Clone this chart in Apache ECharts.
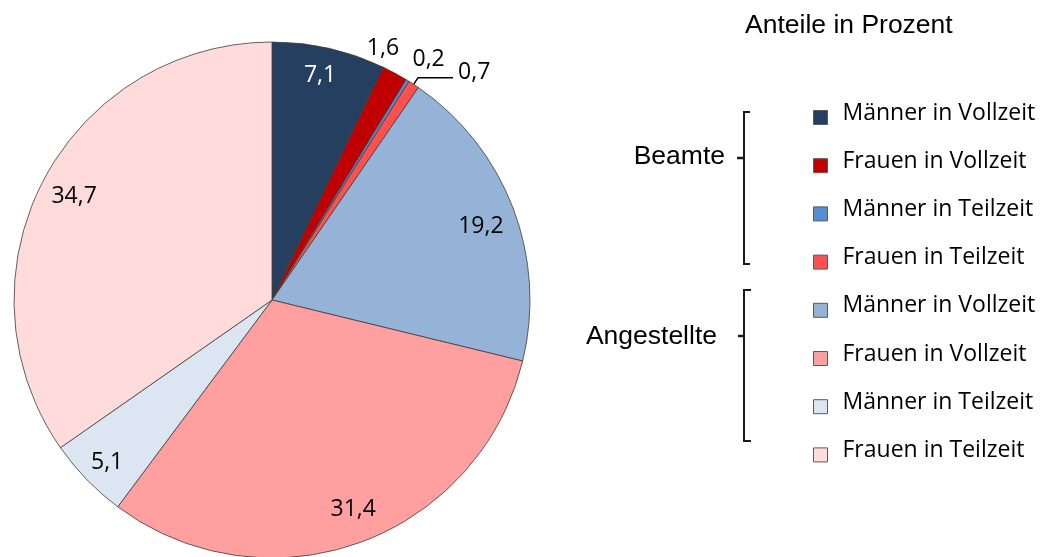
<!DOCTYPE html>
<html><head><meta charset="utf-8">
<script src="https://cdn.jsdelivr.net/npm/echarts@6/dist/echarts.min.js"></script>
<style>html,body{margin:0;padding:0;background:#fff}#c{width:1052px;height:557px}</style>
</head><body><div id="c"></div>
<script>
// ---- data ----
const chartTitle = 'Anteile in Prozent';
const groups = ['Beamte', 'Angestellte'];
const categories = ['Männer in Vollzeit', 'Frauen in Vollzeit', 'Männer in Teilzeit', 'Frauen in Teilzeit'];
const beamteValues = [7.1, 1.6, 0.2, 0.7];
const angestellteValues = [19.2, 31.4, 5.1, 34.7];

// ---- style ----
const colors = ['#243F60', '#C00000', '#558ED5', '#FF5050', '#95B3D7', '#FF9F9F', '#DCE6F2', '#FFDBDB'];
const labelInside = [true, false, false, false, true, true, true, true];
const insideLabelColors = ['#fff', '#000', '#000', '#000', '#000', '#000', '#000', '#000'];
const insideOffsets = [[-3, 1], [0, 0], [0, 0], [0, 0], [-7, 9], [3, -8], [1, 2], [7, 3]];
const outsideOffsets = [[0, 0], [-33, -25], [0, -21], [0, -5], [0, 0], [0, 0], [0, 0], [0, 0]];
const CENTER = [272, 300];
const R = 258;
const LABEL_FONT = 'Open Sans';

const valueSets = [beamteValues, angestellteValues];
const items = [];
groups.forEach(function (g, gi) {
  categories.forEach(function (c, ci) {
    items.push({ name: c + ' (' + g + ')', value: valueSets[gi][ci] });
  });
});
const fmt = function (p) { return String(p.value).replace('.', ','); };
const legendFmt = function (name) { return '{t|' + name.replace(/ \(.*\)$/, '') + '}\n{s| }'; };

const chart = echarts.init(document.getElementById('c'), null, { renderer: 'canvas' });
chart.setOption({
  animation: false,
  backgroundColor: '#fff',
  title: {
    text: chartTitle, left: 745, top: 12, padding: 0,
    textStyle: { fontFamily: 'Liberation Sans', fontSize: 26.5, fontWeight: 'normal', color: '#000' }
  },
  legend: {
    orient: 'vertical', left: 813, top: 101.5, padding: 0,
    itemWidth: 14, itemHeight: 14, itemGap: 17.2,
    icon: 'rect',
    itemStyle: { borderColor: '#595959', borderWidth: 1 },
    formatter: legendFmt,
    textStyle: {
      fontFamily: LABEL_FONT, fontSize: 23, color: '#000', padding: [0, 0, 0, 10],
      rich: {
        t: { fontFamily: LABEL_FONT, fontSize: 23, lineHeight: 24, color: '#000' },
        s: { fontSize: 6, lineHeight: 9 }
      }
    },
    selectedMode: false
  },
  graphic: [
    { type: 'text', x: 725, y: 157, style: { text: groups[0], align: 'right', verticalAlign: 'middle', font: '26.5px "Liberation Sans"', fill: '#000' } },
    { type: 'text', x: 717, y: 337, style: { text: groups[1], align: 'right', verticalAlign: 'middle', font: '26.5px "Liberation Sans"', fill: '#000' } },
    { type: 'polyline', shape: { points: [[750, 112], [744, 112], [744, 264], [750, 264]] }, style: { stroke: '#1a1a1a', lineWidth: 2, fill: null } },
    { type: 'line', shape: { x1: 737, y1: 158, x2: 744, y2: 158 }, style: { stroke: '#1a1a1a', lineWidth: 2.5 } },
    { type: 'polyline', shape: { points: [[751, 290], [744, 290], [744, 441], [751, 441]] }, style: { stroke: '#1a1a1a', lineWidth: 2, fill: null } },
    { type: 'line', shape: { x1: 738, y1: 336, x2: 744, y2: 336 }, style: { stroke: '#1a1a1a', lineWidth: 2.5 } }
  ],
  series: [
    {
      type: 'pie', center: CENTER, radius: [0, R], startAngle: 90, clockwise: true,
      avoidLabelOverlap: false, silent: true,
      itemStyle: { borderColor: '#3c3c3c', borderWidth: 0.8 },
      label: { position: 'outside', formatter: fmt, fontFamily: LABEL_FONT, fontSize: 23, color: '#000', distanceToLabelLine: 5 },
      labelLine: { length: 0, length2: 0, lineStyle: { color: '#000', width: 1.5 } },
      labelLayout: function (p) { const o = outsideOffsets[p.dataIndex]; return { dx: o[0], dy: o[1] }; },
      emphasis: { disabled: true },
      data: items.map(function (it, i) {
        return {
          name: it.name, value: it.value,
          itemStyle: { color: colors[i] },
          label: { show: !labelInside[i] },
          labelLine: i === 3 ? { show: true, length: 8, length2: 35 } : { show: false }
        };
      })
    },
    {
      type: 'pie', center: CENTER, radius: [198, R], startAngle: 90, clockwise: true,
      avoidLabelOverlap: false, silent: true,
      itemStyle: { color: 'rgba(0,0,0,0)', borderWidth: 0 },
      label: { position: 'inside', formatter: fmt, fontFamily: LABEL_FONT, fontSize: 23 },
      labelLine: { show: false },
      labelLayout: function (p) { const o = insideOffsets[p.dataIndex]; return { dx: o[0], dy: o[1] }; },
      emphasis: { disabled: true },
      data: items.map(function (it, i) {
        return { name: it.name, value: it.value, label: { show: labelInside[i], color: insideLabelColors[i] } };
      })
    }
  ]
});
</script></body></html>
